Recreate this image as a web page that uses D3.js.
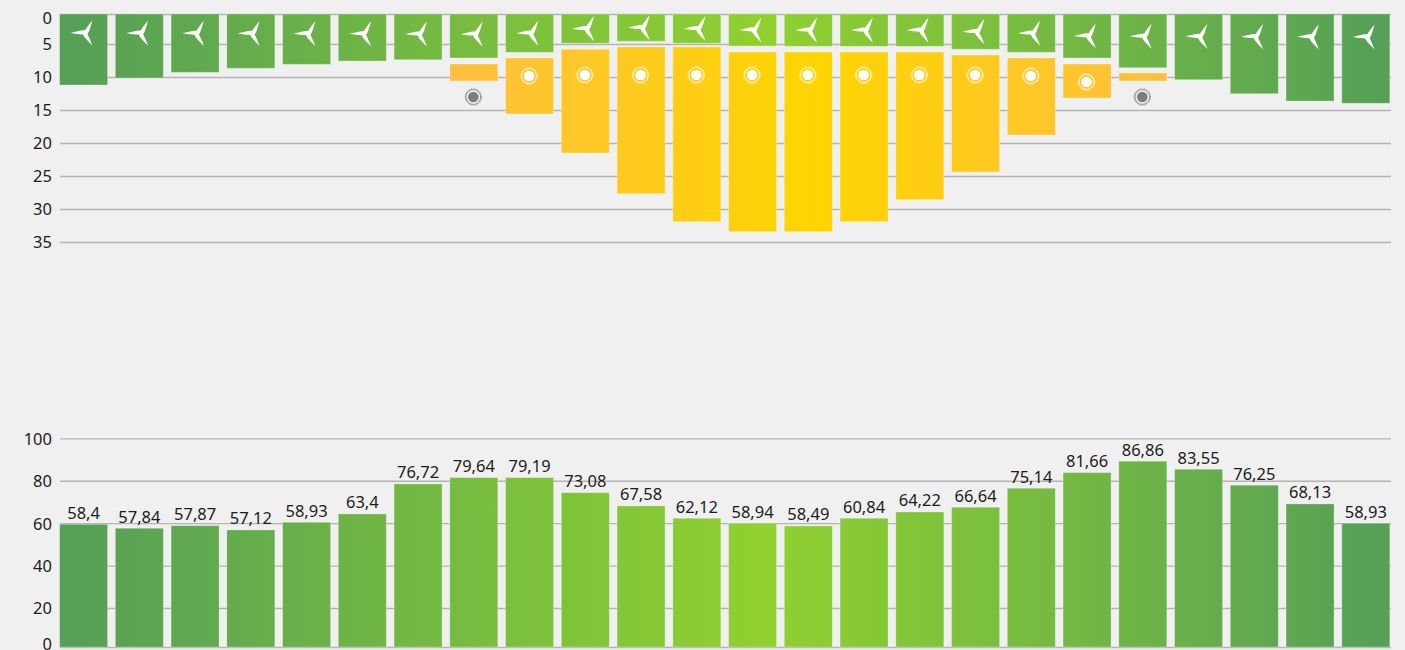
<!DOCTYPE html>
<html>
<head>
<meta charset="utf-8">
<script src="https://cdn.jsdelivr.net/npm/d3@7"></script>
<style>
html,body{margin:0;padding:0;background:#f0f0f0;overflow:hidden}
svg{display:block}
text{font-family:"Noto Sans","Open Sans",sans-serif;font-size:16.5px;fill:#1c1c1c}
.tick line{stroke:#b4b4b4;stroke-width:1.3px}
</style>
</head>
<body>
<svg id="chart" width="1405" height="650"></svg>
<script>
// Categories: one per bar (half-month periods, unnamed in the picture)
const periods = d3.range(1, 25);

// Upper panel: values on the inverted axis
const windDepth = [11.21,10.15,9.3,8.68,8.08,7.58,7.38,7.12,6.26,4.88,4.55,4.88,5.3,5.35,5.35,5.35,5.8,6.26,7.12,8.59,10.41,12.53,13.64,13.98];
const sunStart  = [null,null,null,null,null,null,null,8.03,7.12,5.8,5.45,5.45,6.21,6.21,6.21,6.21,6.67,7.12,8.03,9.39,null,null,null,null];
const sunEnd    = [null,null,null,null,null,null,null,10.61,15.61,21.52,27.68,31.92,33.44,33.44,31.92,28.59,24.39,18.79,13.18,10.61,null,null,null,null];

// Lower panel: drawn heights and the printed labels
const loadHeights = [59.48,57.59,58.82,56.79,60.42,64.34,78.49,81.46,81.46,74.39,68.11,62.31,59.95,58.68,62.31,65.28,67.5,76.46,83.82,89.2,85.42,77.88,69.06,59.95];
const loadLabels  = ["58,4","57,84","57,87","57,12","58,93","63,4","76,72","79,64","79,19","73,08","67,58","62,12","58,94","58,49","60,84","64,22","66,64","75,14","81,66","86,86","83,55","76,25","68,13","58,93"];

// Tick labels
const topTicks = [0,5,10,15,20,25,30,35];
const bottomTicks = [0,20,40,60,80,100];

const left = 60, right = 1391;
const svg = d3.select("#chart");

const x = d3.scaleBand().domain(periods).range([left - 0.4, right - 1.2]).paddingInner(0.139).paddingOuter(0);
const yTop = d3.scaleLinear().domain([0,5,35]).range([14,44,242]);
const yBot = d3.scaleLinear().domain([0,20,100]).range([647,608,438.3]);

const defs = svg.append("defs");
function gradient(id, edge, mid, x1, x2, midAt){
  const g = defs.append("linearGradient").attr("id", id).attr("gradientUnits","userSpaceOnUse")
    .attr("x1", x1).attr("x2", x2).attr("y1",0).attr("y2",0);
  g.append("stop").attr("offset",0).attr("stop-color",edge);
  g.append("stop").attr("offset",midAt).attr("stop-color",mid);
  g.append("stop").attr("offset",1).attr("stop-color",edge);
}
gradient("greenGrad","#559f57","#90d12f", left, right, 0.53);
gradient("sunGrad","#ffbf3e","#ffd500", x(periods[7]), x(periods[19]) + x.bandwidth(), 0.5);

function drawAxis(scale, ticks, zeroShift){
  const g = svg.append("g").attr("transform",`translate(${left},0)`)
    .call(d3.axisLeft(scale).tickValues(ticks).tickSize(-(right-left)).tickPadding(8));
  g.select(".domain").remove();
  g.selectAll(".tick text").attr("dy", d => d === 0 ? zeroShift : "0.36em");
}
drawAxis(yTop, topTicks, "0.6em");
drawAxis(yBot, bottomTicks, "2px");

const edge = {stroke:"#ffffff","stroke-opacity":0.28,"stroke-width":1};
function styled(sel){ Object.entries(edge).forEach(([k,v])=>sel.attr(k,v)); return sel; }

// Wind bars
styled(svg.append("g").selectAll("rect").data(periods).join("rect")
  .attr("x", d => x(d)).attr("width", x.bandwidth())
  .attr("y", yTop(0)).attr("height", (d,i) => yTop(windDepth[i]) - yTop(0))
  .attr("fill","url(#greenGrad)"));

// Sun bars
const sunIdx = periods.map((d,i)=>i).filter(i => sunStart[i] !== null);
styled(svg.append("g").selectAll("rect").data(sunIdx).join("rect")
  .attr("x", i => x(periods[i])).attr("width", x.bandwidth())
  .attr("y", i => yTop(sunStart[i])).attr("height", i => yTop(sunEnd[i]) - yTop(sunStart[i]))
  .attr("fill","url(#sunGrad)"));

// Wind turbine icons
const blade = "M1.6,1.2 C-3,1.8 -9,1 -14.5,0 C-9,-1.2 -4,-3 0,-2.6 Z";
const turbines = svg.append("g").selectAll("g").data(periods).join("g")
  .attr("transform", (d,i) => {
    const mid = (yTop(0) + yTop(windDepth[i])) / 2;
    const cap = 33 + 4 * i / (periods.length - 1);
    return `translate(${x(d) + x.bandwidth()/2 + 1.5},${Math.min(mid, cap)})`;
  });
[0,120,240].forEach(a => turbines.append("path").attr("d", blade).attr("fill","#fff").attr("transform",`rotate(${a})`));

// Sun icons
const suns = svg.append("g").selectAll("g").data(sunIdx).join("g")
  .attr("transform", i => {
    const t = yTop(sunStart[i]), b = yTop(sunEnd[i]);
    const y = (b - t) < 20 ? b + 16 : Math.max(75, t + 18);
    return `translate(${x(periods[i]) + x.bandwidth()/2 - 0.5},${y})`;
  });
const sunColor = i => (yTop(sunEnd[i]) - yTop(sunStart[i])) < 20 ? "#7d7d80" : "#ffffff";
suns.append("circle").attr("r",5.3).attr("fill",sunColor);
suns.append("circle").attr("r",7.4).attr("fill","none").attr("stroke",sunColor).attr("stroke-width",0.8);
suns.append("circle").attr("r",8.2).attr("fill","none").attr("stroke",sunColor).attr("stroke-width",1).attr("stroke-dasharray","1 1");

// Lower bars
styled(svg.append("g").selectAll("rect").data(periods).join("rect")
  .attr("x", d => x(d)).attr("width", x.bandwidth())
  .attr("y", (d,i) => yBot(loadHeights[i])).attr("height", (d,i) => yBot(0) - yBot(loadHeights[i]))
  .attr("fill","url(#greenGrad)"));

// Lower labels
svg.append("g").selectAll("text").data(periods).join("text")
  .attr("x", d => x(d) + x.bandwidth()/2)
  .attr("y", (d,i) => yBot(loadHeights[i]) - 5.5)
  .attr("text-anchor","middle")
  .text((d,i) => loadLabels[i]);
</script>
</body>
</html>
